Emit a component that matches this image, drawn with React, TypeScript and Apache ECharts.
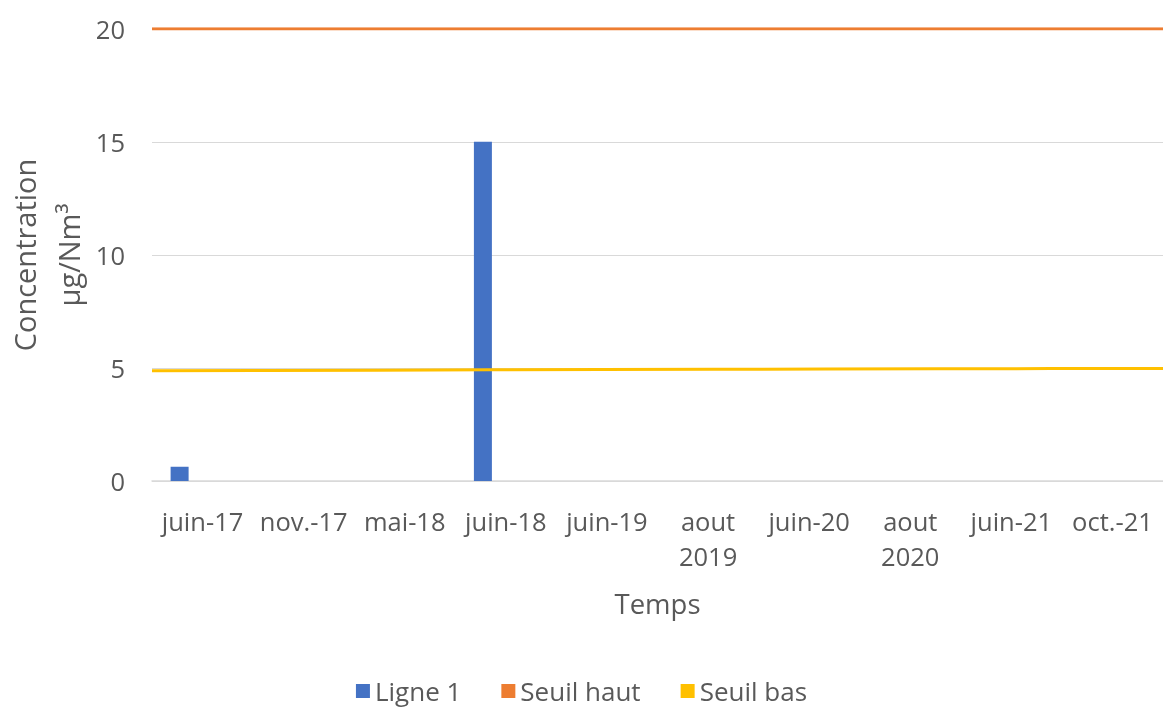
import React, { useEffect, useRef } from "react";
import * as echarts from "echarts";

const categories = ["juin-17", "nov.-17", "mai-18", "juin-18", "juin-19", "aout\n2019", "juin-20", "aout\n2020", "juin-21", "oct.-21"];
const ligne1 = [0.63, null, null, 15, null, null, null, null, null, null];
const seuilHaut = [20, 20, 20, 20, 20, 20, 20, 20, 20, 20];
const seuilBas = [4.88, 4.89, 4.9, 4.92, 4.93, 4.94, 4.95, 4.96, 4.97, 4.98];
const yTicks = [0, 5, 10, 15, 20];

const FONT = "Open Sans";
const GRAY = "#595959";

export default function App() {
  const ref = useRef<HTMLDivElement>(null);
  useEffect(() => {
    if (!ref.current) return;
    const chart = echarts.init(ref.current, null, { renderer: "svg" });
    chart.setOption({
      animation: false,
      textStyle: { fontFamily: FONT, color: GRAY },
      grid: { left: 152, right: 0, top: 28.7, bottom: 229, containLabel: false },
      legend: {
        data: ["Ligne 1", "Seuil haut", "Seuil bas"],
        bottom: 1,
        left: "center",
        icon: "rect",
        itemWidth: 14,
        itemHeight: 14,
        itemGap: 40,
        textStyle: { fontFamily: FONT, fontSize: 26, color: GRAY },
      },
      xAxis: [
        {
          type: "category",
          data: categories,
          boundaryGap: true,
          axisLine: { show: true, lineStyle: { color: "#d9d9d9", width: 1.5 } },
          axisTick: { show: false },
          axisLabel: { fontFamily: FONT, fontSize: 25.5, color: GRAY, margin: 22, lineHeight: 35, interval: 0 },
          name: "Temps",
          nameLocation: "middle",
          nameGap: 108,
          nameTextStyle: { fontFamily: FONT, fontSize: 27.5, color: GRAY },
        },
        {
          type: "category",
          data: categories,
          boundaryGap: false,
          show: false,
        },
      ],
      yAxis: {
        type: "value",
        min: 0,
        max: 20,
        interval: 5,
        axisLine: { show: false },
        axisTick: { show: false },
        axisLabel: { fontFamily: FONT, fontSize: 25.5, color: GRAY, margin: 27, formatter: (v: number) => (yTicks.includes(v) ? String(v) : "") },
        splitLine: { lineStyle: { color: "#d9d9d9", width: 1 } },
      },
      graphic: [
        {
          type: "text",
          x: 46,
          y: 255,
          rotation: Math.PI / 2,
          style: {
            text: "Concentration\nµg/Nm³",
            fontFamily: FONT,
            fontSize: 29,
            lineHeight: 44,
            fill: GRAY,
            align: "center",
            verticalAlign: "middle",
          },
        },
      ],
      series: [
        {
          name: "Ligne 1",
          type: "bar",
          xAxisIndex: 0,
          data: ligne1,
          barWidth: 18,
          barGap: "155%",
          itemStyle: { color: "#4472C4" },
        },
        {
          name: "_pad",
          type: "bar",
          xAxisIndex: 0,
          data: categories.map(() => null),
          barWidth: 18,
          itemStyle: { color: "transparent" },
        },
        {
          name: "Seuil haut",
          type: "line",
          xAxisIndex: 1,
          data: seuilHaut,
          symbol: "none",
          lineStyle: { color: "#ED7D31", width: 3 },
          itemStyle: { color: "#ED7D31" },
        },
        {
          name: "Seuil bas",
          type: "line",
          xAxisIndex: 1,
          data: seuilBas,
          symbol: "none",
          lineStyle: { color: "#FFC000", width: 3 },
          itemStyle: { color: "#FFC000" },
        },
      ],
    });
    return () => chart.dispose();
  }, []);
  return <div ref={ref} style={{ position: "fixed", left: 0, top: 0, width: 1163, height: 710 }} />;
}
